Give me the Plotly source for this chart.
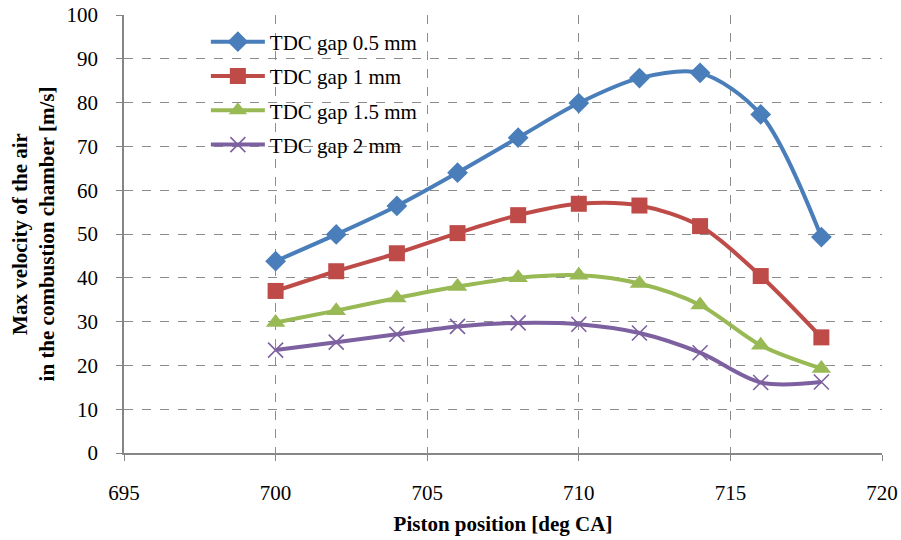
import plotly.graph_objects as go

x_deg = [700, 702, 704, 706, 708, 710, 712, 714, 716, 718]
gap_05 = [43.8, 49.9, 56.4, 64.0, 72.0, 79.9, 85.6, 86.8, 77.3, 49.3]
gap_10 = [37.0, 41.5, 45.6, 50.2, 54.3, 56.9, 56.5, 51.8, 40.4, 26.4]
gap_15 = [29.8, 32.5, 35.4, 38.0, 40.0, 40.6, 38.7, 33.8, 24.6, 19.3]
gap_20 = [23.5, 25.3, 27.1, 28.9, 29.7, 29.4, 27.4, 22.9, 16.1, 16.2]

names = ["TDC gap 0.5 mm", "TDC gap 1 mm", "TDC gap 1.5 mm", "TDC gap 2 mm"]
colors = ["#4A7EBB", "#BE4B48", "#98B954", "#7D60A0"]
symbols = ["diamond", "square", "triangle-up", "x-thin"]
sizes = [16, 16, 17, 15]
series = [gap_05, gap_10, gap_15, gap_20]

FONT = "Liberation Serif, Times New Roman, serif"

fig = go.Figure()
for i, (name, ys) in enumerate(zip(names, series)):
    mk = dict(symbol=symbols[i], size=sizes[i], color=colors[i])
    if symbols[i] == "x-thin":
        mk["line"] = dict(color=colors[i], width=1.6)
    fig.add_trace(go.Scatter(
        x=x_deg, y=ys, name=name, mode="lines+markers",
        line=dict(color=colors[i], width=4, shape="spline", smoothing=0.9),
        marker=mk, legendgroup=name,
    ))

grid = dict(showgrid=True, gridcolor="#8C8C8C", griddash="dash", gridwidth=1.3)
fig.update_layout(
    width=901, height=540,
    margin=dict(l=124, r=19, t=15, b=87, autoexpand=False),
    paper_bgcolor="white", plot_bgcolor="white",
    font=dict(family=FONT, size=21, color="black"),
    showlegend=True,
    legend=dict(x=0.108, y=0.985, xanchor="left", yanchor="top",
                bgcolor="rgba(255,255,255,0)", font=dict(family=FONT, size=21),
                itemwidth=54, tracegroupgap=4, traceorder="grouped"),
    xaxis=dict(range=[695, 720], dtick=5, tick0=695, showline=True, linecolor="#868686",
               linewidth=1.5, ticks="outside", ticklen=6, tickcolor="#868686",
               ticklabelstandoff=14, zeroline=False, automargin=False,
               tickfont=dict(family=FONT, size=21),
               title=dict(text="<b>Piston position [deg CA]</b>", standoff=12,
                          font=dict(family=FONT, size=21)),
               **grid),
    yaxis=dict(range=[0, 100], dtick=10, showline=True, linecolor="#868686", linewidth=1.5,
               ticks="outside", ticklen=6, tickcolor="#868686", ticklabelstandoff=14,
               zeroline=False, automargin=False,
               tickfont=dict(family=FONT, size=21),
               title=dict(text="<b>Max velocity of the air<br>in the combustion chamber [m/s]</b>",
                          standoff=6, font=dict(family=FONT, size=21)),
               **grid),
)
fig.write_html("out.html")
